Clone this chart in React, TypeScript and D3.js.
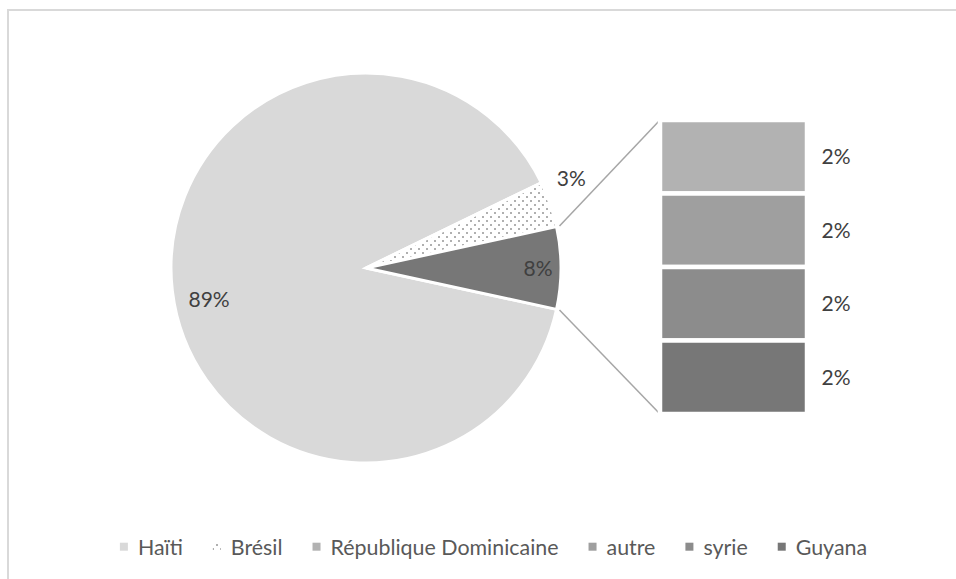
import React, { useEffect, useRef } from "react";
import * as d3 from "d3";

// ---- data ----
const categories = ["Haïti", "Brésil", "République Dominicaine", "autre", "syrie", "Guyana"];
const mainValues = [89.4, 3.8]; // Haïti, Brésil
const secondaryValues = [1.7, 1.7, 1.7, 1.7]; // République Dominicaine, autre, syrie, Guyana
const mainLabels = ["89%", "3%", "8%"];
const secondaryLabels = ["2%", "2%", "2%", "2%"];

const mainColors = ["#d9d9d9", "pattern", "#777777"];
const secondaryColors = ["#b2b2b2", "#9f9f9f", "#8c8c8c", "#777777"];

const W = 956;
const H = 579;
const FONT = "Lato, 'Open Sans', sans-serif";
const FS = 21;
const LFS = 21.4;

export default function App() {
  const ref = useRef<SVGSVGElement | null>(null);

  useEffect(() => {
    const svg = d3.select(ref.current);
    svg.selectAll("*").remove();

    // pattern for Brésil
    const defs = svg.append("defs");
    const pat = defs
      .append("pattern")
      .attr("id", "dots")
      .attr("patternUnits", "userSpaceOnUse")
      .attr("width", 8)
      .attr("height", 8);
    pat.append("rect").attr("width", 8).attr("height", 8).attr("fill", "#ffffff");
    pat.append("rect").attr("x", 0).attr("y", 0).attr("width", 2).attr("height", 2).attr("fill", "#b0b0b0");
    pat.append("rect").attr("x", 4).attr("y", 4).attr("width", 2).attr("height", 2).attr("fill", "#b0b0b0");

    const fillFor = (c: string) => (c === "pattern" ? "url(#dots)" : c);

    // chart border
    svg
      .append("rect")
      .attr("x", 8)
      .attr("y", 10)
      .attr("width", 1200)
      .attr("height", 1200)
      .attr("fill", "none")
      .attr("stroke", "#d9d9d9")
      .attr("stroke-width", 2);

    // ---- main pie ----
    const otherSum = d3.sum(secondaryValues);
    const pieData = [...mainValues, otherSum];
    const total = d3.sum(pieData);
    const cx = 366;
    const cy = 268;
    const R = 195;
    const start = Math.PI / 2 + (otherSum / total) * Math.PI;
    const pie = d3
      .pie<number>()
      .sort(null)
      .value((d) => d)
      .startAngle(start)
      .endAngle(start + 2 * Math.PI);
    const arcs = pie(pieData);
    const arc = d3.arc<d3.PieArcDatum<number>>().innerRadius(0).outerRadius(R);

    const g = svg.append("g").attr("transform", `translate(${cx},${cy})`);
    g.selectAll("path.slice")
      .data(arcs)
      .join("path")
      .attr("class", "slice")
      .attr("d", arc)
      .attr("fill", (_d, i) => fillFor(mainColors[i]))
      .attr("stroke", "#ffffff")
      .attr("stroke-width", 3);

    const pt = (a: number, r: number) => [cx + r * Math.sin(a), cy - r * Math.cos(a)];

    // ---- secondary bar ----
    const barX0 = 660;
    const barX1 = 807;
    const y = d3.scaleLinear().domain([0, otherSum]).range([120, 414]);
    let cum = 0;
    const stacks = secondaryValues.map((v) => {
      const s = { y0: cum, y1: cum + v, v };
      cum += v;
      return s;
    });

    // connector lines
    const other = arcs[2];
    const p0 = pt(other.startAngle, R + 3);
    const p1 = pt(other.endAngle, R + 3);
    svg
      .append("line")
      .attr("x1", p0[0])
      .attr("y1", p0[1])
      .attr("x2", barX0)
      .attr("y2", y(0))
      .attr("stroke", "#a6a6a6")
      .attr("stroke-width", 1.5);
    svg
      .append("line")
      .attr("x1", p1[0])
      .attr("y1", p1[1])
      .attr("x2", barX0)
      .attr("y2", y(otherSum))
      .attr("stroke", "#a6a6a6")
      .attr("stroke-width", 1.5);

    svg
      .selectAll("rect.bar")
      .data(stacks)
      .join("rect")
      .attr("class", "bar")
      .attr("x", barX0)
      .attr("width", barX1 - barX0)
      .attr("y", (d) => y(d.y0))
      .attr("height", (d) => y(d.y1) - y(d.y0))
      .attr("fill", (_d, i) => secondaryColors[i])
      .attr("stroke", "#ffffff")
      .attr("stroke-width", 4.5);

    const capOff = FS * 0.36;
    svg
      .selectAll("text.blab")
      .data(stacks)
      .join("text")
      .attr("class", "blab")
      .attr("x", barX1 + 29)
      .attr("y", (d) => (y(d.y0) + y(d.y1)) / 2 + capOff)
      .attr("text-anchor", "middle")
      .attr("font-family", FONT)
      .attr("font-size", FS)
      .attr("fill", "#404040")
      .text((_d, i) => secondaryLabels[i]);

    // pie labels
    const haiti = arcs[0];
    const bresil = arcs[1];
    const hMid = (haiti.startAngle + haiti.endAngle) / 2;
    const lp0 = pt(hMid - 0.077, 160);
    const lp1 = pt(bresil.startAngle + 0.04, 224);
    const lp2 = pt((other.startAngle + other.endAngle) / 2, 172);
    const lps = [lp0, lp1, lp2];
    svg
      .selectAll("text.plab")
      .data(lps)
      .join("text")
      .attr("class", "plab")
      .attr("x", (d) => d[0])
      .attr("y", (d) => d[1] + capOff)
      .attr("text-anchor", "middle")
      .attr("font-family", FONT)
      .attr("font-size", FS)
      .attr("fill", "#404040")
      .text((_d, i) => mainLabels[i]);

    // ---- legend ----
    const legendColors = [mainColors[0], mainColors[1], ...secondaryColors];
    const lg = svg.append("g");
    const items = categories.map((c, i) => {
      const t = lg
        .append("text")
        .attr("font-family", FONT)
        .attr("font-size", LFS)
        .attr("fill", "#595959")
        .attr("y", 555)
        .text(c);
      const w = (t.node() as SVGTextElement).getComputedTextLength();
      return { t, w, i };
    });
    const mk = 8;
    const gap1 = 10;
    const gap2 = 30;
    const totalW = d3.sum(items, (d) => mk + gap1 + d.w) + gap2 * (items.length - 1);
    let x = 493.5 - totalW / 2;
    items.forEach((it) => {
      lg.append("rect")
        .attr("x", x)
        .attr("y", 542.7)
        .attr("width", mk)
        .attr("height", mk)
        .attr("fill", fillFor(legendColors[it.i]));
      it.t.attr("x", x + mk + gap1);
      x += mk + gap1 + it.w + gap2;
    });
  }, []);

  return (
    <div style={{ position: "absolute", left: 0, top: 0, width: W, height: H, background: "#ffffff" }}>
      <svg ref={ref} width={W} height={H} style={{ display: "block" }} />
    </div>
  );
}
